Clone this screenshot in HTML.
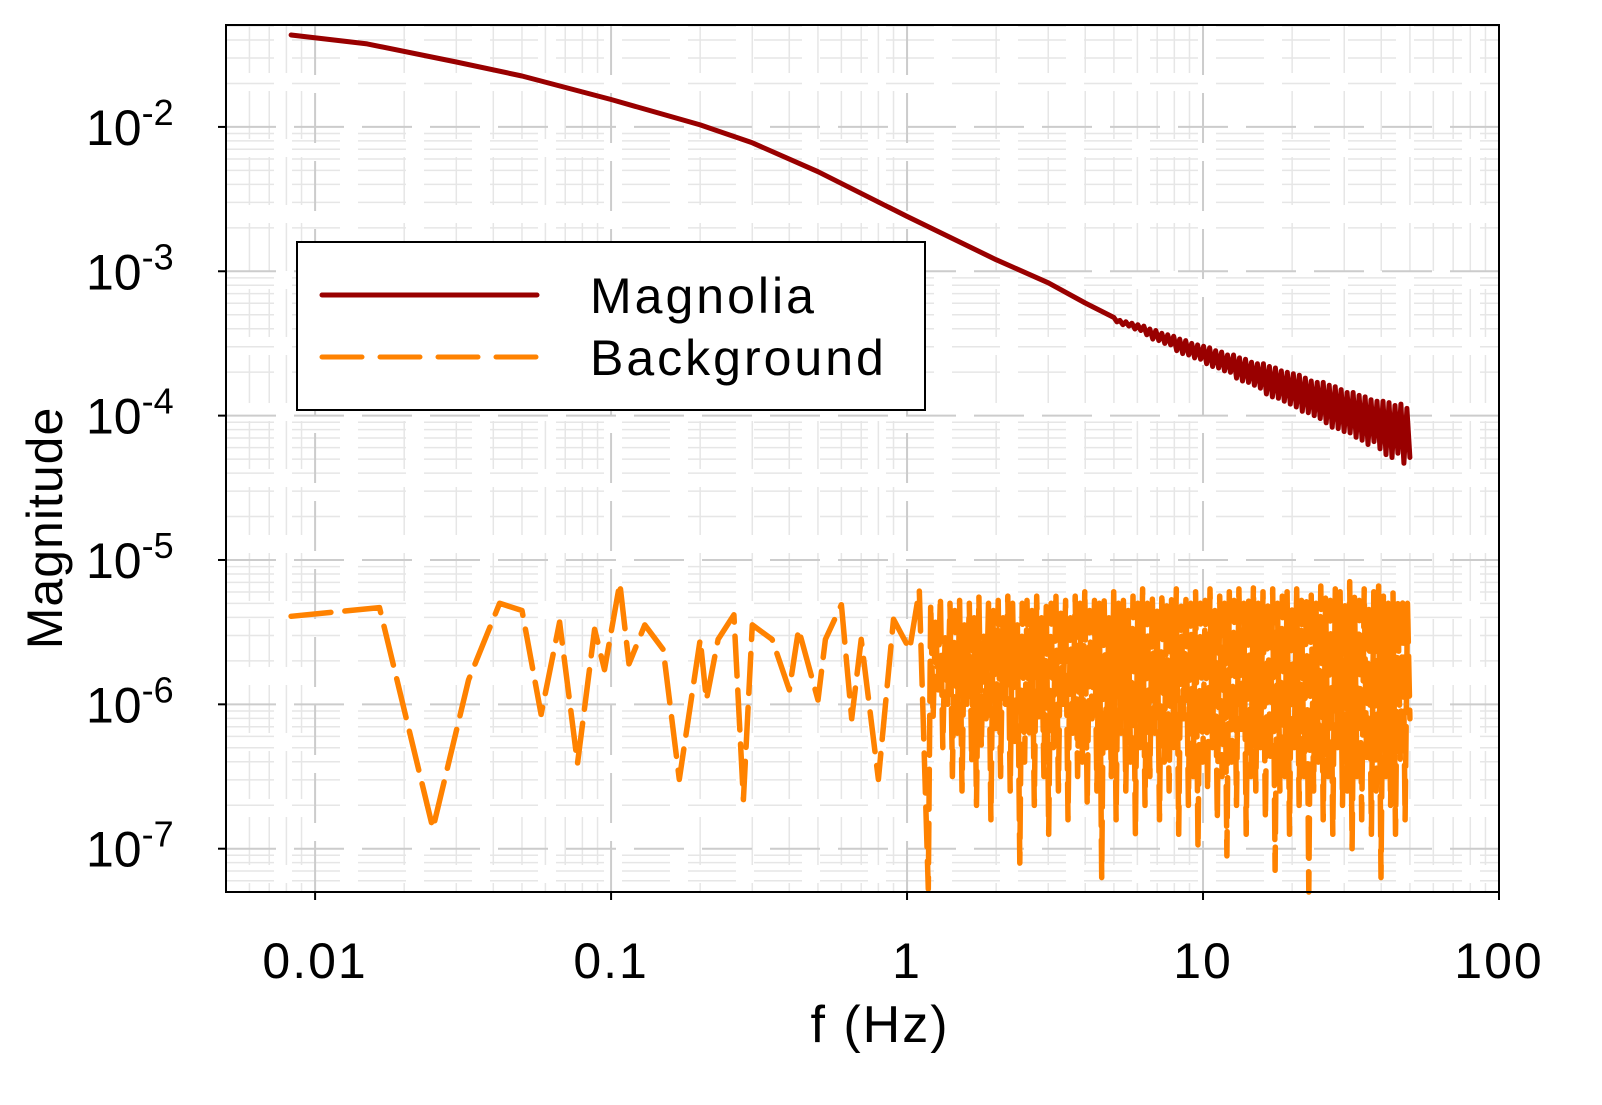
<!DOCTYPE html>
<html><head><meta charset="utf-8"><style>
html,body{margin:0;padding:0;background:#fff;}
svg text{font-family:"Liberation Sans",Arial,sans-serif;fill:#000;}
</style></head><body>
<svg id="chart" width="1602" height="1100" viewBox="0 0 1602 1100" xmlns="http://www.w3.org/2000/svg">
<rect x="0" y="0" width="1602" height="1100" fill="#fff"/>
<g id="grid"></g>
<g id="series"></g>
<rect x="226" y="25" width="1273" height="867" fill="none" stroke="#000" stroke-width="2"/>
<g id="axes"></g>
<text x="880" y="1042" font-size="52" letter-spacing="2" text-anchor="middle">f (Hz)</text>
<text transform="translate(62,528) rotate(-90)" font-size="50" letter-spacing="1" text-anchor="middle">Magnitude</text>
<g>
<rect x="297" y="242" width="628" height="168" fill="#fff" stroke="#000" stroke-width="2"/>
<line x1="322" y1="295" x2="537" y2="295" stroke="#990000" stroke-width="5" stroke-linecap="round"/>
<text x="590" y="313" font-size="50" letter-spacing="3">Magnolia</text>
<line x1="322" y1="357" x2="537" y2="357" stroke="#FF8200" stroke-width="5" stroke-dasharray="40 18" stroke-linecap="round"/>
<text x="590" y="375" font-size="50" letter-spacing="3">Background</text>
</g>
</svg>
<script>
const xTickValues = [0.01, 0.1, 1, 10, 100];
const xTickLabels = ["0.01", "0.1", "1", "10", "100"];
const yTickExps = [-2, -3, -4, -5, -6, -7];
const magSmoothF = [0.0083, 0.015, 0.03, 0.05, 0.1, 0.2, 0.3, 0.5, 1, 2, 3, 4];
const magSmoothLog = [-1.363, -1.425, -1.55, -1.647, -1.81, -1.986, -2.11, -2.31, -2.62, -2.92, -3.08, -3.22];
const magTailStartF = 5, magTailEndF = 50;
const magTailLog = [
-3.32,-3.35,-3.34,-3.37,-3.35,-3.38,-3.36,-3.40,-3.37,-3.41,
-3.38,-3.44,-3.40,-3.47,-3.41,-3.48,-3.43,-3.50,-3.44,-3.51,
-3.45,-3.55,-3.47,-3.57,-3.48,-3.58,-3.50,-3.60,-3.51,-3.61,
-3.52,-3.64,-3.53,-3.66,-3.55,-3.67,-3.56,-3.69,-3.58,-3.70,
-3.58,-3.74,-3.60,-3.76,-3.61,-3.77,-3.63,-3.79,-3.64,-3.81,
-3.64,-3.85,-3.66,-3.87,-3.67,-3.88,-3.69,-3.90,-3.70,-3.92,
-3.71,-3.94,-3.72,-3.97,-3.74,-3.98,-3.76,-4.00,-3.77,-4.02,
-3.77,-4.05,-3.79,-4.08,-3.80,-4.09,-3.82,-4.11,-3.84,-4.12,
-3.84,-4.15,-3.86,-4.17,-3.87,-4.20,-3.89,-4.18,-3.90,-4.23,
-3.90,-4.27,-3.91,-4.29,-3.93,-4.26,-3.92,-4.33,-3.95,-4.29];
const bgSparseF = [0.0083,0.0165,0.025,0.033,0.042,0.05,0.058,0.067,0.077,0.088,0.095,0.107,0.115,0.13,0.15,0.17,0.2,0.21,0.23,0.26,0.28,0.3,0.35,0.4,0.43,0.5,0.53,0.6,0.65,0.7,0.8,0.9,1.02,1.1];
const bgSparseLog = [-5.39,-5.33,-6.86,-5.83,-5.30,-5.35,-6.07,-5.43,-6.41,-5.48,-5.76,-5.16,-5.72,-5.45,-5.62,-6.52,-5.55,-5.97,-5.55,-5.38,-6.66,-5.45,-5.55,-5.9,-5.48,-5.97,-5.55,-5.31,-6.1,-5.55,-6.52,-5.41,-5.62,-5.21];
const bgDenseStartF = 1.18, bgDenseEndF = 50;
const bgDenseLog = [
-7.28,-5.3,-6.1,-5.4,-5.9,-5.25,-6.3,-5.5,-6.0,-5.3,
-6.5,-5.35,-6.2,-5.28,-6.6,-5.45,-6.0,-5.3,-6.4,-5.4,
-6.7,-5.25,-6.3,-5.5,-6.1,-5.3,-6.8,-5.35,-6.2,-5.28,
-6.5,-5.4,-6.0,-5.25,-6.6,-5.3,-6.3,-5.45,-7.1,-5.3,
-6.4,-5.28,-6.2,-5.35,-6.7,-5.25,-6.1,-5.4,-6.5,-5.3,
-6.9,-5.3,-6.3,-5.22,-6.6,-5.35,-6.0,-5.28,-6.8,-5.4,
-6.2,-5.25,-6.5,-5.3,-6.4,-5.2,-6.7,-5.35,-6.1,-5.28,
-6.6,-5.3,-7.2,-5.25,-6.3,-5.4,-6.5,-5.22,-6.8,-5.3,
-6.2,-5.28,-6.6,-5.35,-6.4,-5.25,-6.9,-5.3,-6.3,-5.2,
-6.7,-5.3,-6.5,-5.25,-6.2,-5.35,-6.8,-5.22,-6.4,-5.3,
-6.6,-5.27,-6.3,-5.2,-6.9,-5.32,-6.1,-5.25,-6.7,-5.3,
-6.5,-5.22,-7.0,-5.3,-6.4,-5.28,-6.6,-5.2,-6.3,-5.35,
-6.8,-5.25,-6.5,-5.3,-7.05,-5.22,-6.4,-5.28,-6.7,-5.2,
-6.2,-5.3,-6.9,-5.25,-6.5,-5.18,-6.6,-5.3,-6.3,-5.22,
-6.8,-5.28,-6.4,-5.2,-7.15,-5.3,-6.6,-5.25,-6.5,-5.22,
-6.9,-5.3,-6.3,-5.2,-6.7,-5.28,-6.5,-5.25,-7.3,-5.22,
-6.6,-5.3,-6.4,-5.18,-6.8,-5.25,-6.5,-5.28,-6.9,-5.2,
-6.3,-5.22,-6.7,-5.3,-6.6,-5.15,-7.0,-5.25,-6.5,-5.28,
-6.8,-5.2,-6.4,-5.3,-6.9,-5.22,-6.6,-5.18,-7.2,-5.25,
-6.5,-5.3,-6.7,-5.22,-6.9,-5.28,-6.4,-5.25,-6.8,-5.3,-6.1];

const PL = 226, PR = 1499, PT = 25, PB = 892;
const xMinLog = Math.log10(0.005), xMaxLog = 2;
const yMinLog = -7.30, yMaxLog = -1.294;
const X = f => PL + (Math.log10(f) - xMinLog) / (xMaxLog - xMinLog) * (PR - PL);
const Y = lg => PB - (lg - yMinLog) / (yMaxLog - yMinLog) * (PB - PT);
const NS = "http://www.w3.org/2000/svg";
function mk(tag, attrs, parent) {
  const el = document.createElementNS(NS, tag);
  for (const k in attrs) el.setAttribute(k, attrs[k]);
  parent.appendChild(el);
  return el;
}
function logSpaced(a, b, i, n) {
  return Math.pow(10, Math.log10(a) + (Math.log10(b) - Math.log10(a)) * i / (n - 1));
}
const grid = document.getElementById('grid');
const axes = document.getElementById('axes');
const series = document.getElementById('series');

for (let e = -3; e <= 1; e++) {
  for (let m = 2; m <= 9; m++) {
    const f = m * Math.pow(10, e);
    if (f < 0.005 || f > 100) continue;
    const l = mk('line', {x1: X(f), x2: X(f), y1: PT, y2: PB, stroke: '#e6e6e6', 'stroke-width': 1.5, 'stroke-dasharray': '48 18'}, grid);
    
    
  }
}
for (let e = -8; e <= -2; e++) {
  for (let m = 2; m <= 9; m++) {
    const lg = Math.log10(m) + e;
    if (lg < yMinLog || lg > yMaxLog) continue;
    const l = mk('line', {x1: PL, x2: PR, y1: Y(lg), y2: Y(lg), stroke: '#e6e6e6', 'stroke-width': 1.5, 'stroke-dasharray': '48 18'}, grid);
    
    
  }
}
xTickValues.forEach((v, i) => {
  const x = X(v);
  const g = mk('line', {x1: x, x2: x, y1: PT, y2: PB, stroke: '#cccccc', 'stroke-width': 2, 'stroke-dasharray': '50 18'}, grid);
  
  
  const t = mk('line', {x1: x, x2: x, y1: PB, y2: PB + 8, stroke: '#000', 'stroke-width': 2}, axes);
  
  
  const tx = mk('text', {x: x, y: 978, 'font-size': 50, 'letter-spacing': 2, 'text-anchor': 'middle'}, axes);
  tx.textContent = xTickLabels[i];
  
  
});
yTickExps.forEach(e => {
  const y = Y(e);
  const g = mk('line', {x1: PL, x2: PR, y1: y, y2: y, stroke: '#cccccc', 'stroke-width': 2, 'stroke-dasharray': '50 18'}, grid);
  
  
  const t = mk('line', {x1: PL - 8, x2: PL, y1: y, y2: y, stroke: '#000', 'stroke-width': 2}, axes);
  
  
  const tx = mk('text', {x: 86, y: y + 18, 'font-size': 50}, axes);
  
  
  const b = document.createElementNS(NS, 'tspan'); b.textContent = '10'; tx.appendChild(b);
  const s = document.createElementNS(NS, 'tspan'); s.setAttribute('dy', '-20'); s.setAttribute('font-size', '36'); s.textContent = String(e); tx.appendChild(s);
});

let bgPts = [];
bgSparseF.forEach((f, i) => bgPts.push([X(f), Y(bgSparseLog[i])]));
const nB = bgDenseLog.length;
bgDenseLog.forEach((v, i) => {
  bgPts.push([X(logSpaced(bgDenseStartF, bgDenseEndF, i, nB)), Y(v)]);
});
const bg = mk('polyline', {points: bgPts.map(p => p[0].toFixed(1) + ',' + p[1].toFixed(1)).join(' '), fill: 'none', stroke: '#FF8200', 'stroke-width': 5.5, 'stroke-dasharray': '40 14', 'stroke-linejoin': 'round', 'stroke-linecap': 'round'}, series);



let mPts = [];
magSmoothF.forEach((f, i) => mPts.push([X(f), Y(magSmoothLog[i])]));
const nM = magTailLog.length;
magTailLog.forEach((v, i) => {
  mPts.push([X(logSpaced(magTailStartF, magTailEndF, i, nM)), Y(v)]);
});
const mg = mk('polyline', {points: mPts.map(p => p[0].toFixed(1) + ',' + p[1].toFixed(1)).join(' '), fill: 'none', stroke: '#990000', 'stroke-width': 5, 'stroke-linejoin': 'round', 'stroke-linecap': 'round'}, series);


</script>
</body></html>
